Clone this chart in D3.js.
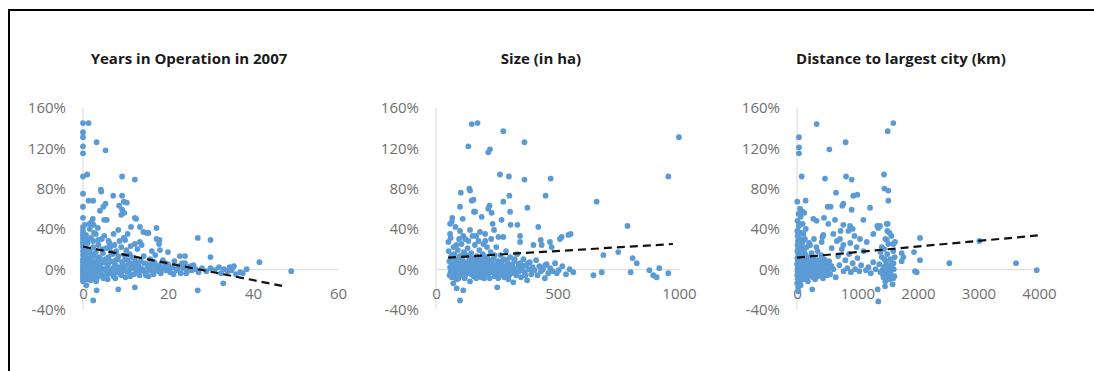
<!DOCTYPE html>
<html>
<head>
<meta charset="utf-8">
<script src="https://cdn.jsdelivr.net/npm/d3@7"></script>
<style>
  body { margin: 0; background: #fff; }
  svg { display: block; }
</style>
</head>
<body>
<div id="chart"></div>
<script>
// growth (in %) against three firm characteristics
var titles = ["Years in Operation in 2007", "Size (in ha)", "Distance to largest city (km)"];

var yTicks = [-40, 0, 40, 80, 120, 160];
var yearsTicks = [0, 20, 40, 60];
var sizeTicks = [0, 500, 1000];
var distTicks = [0, 1000, 2000, 3000, 4000];

// [years, growth %]
var yearsPts = [
  [0,145],[1.3,145],[0,136],[0,131],[0,122],[0,115],[3.2,126],[5.3,118],[0,92],[1,94],[9.2,92],[12.2,89],
  [0,75],[4.2,79],[4.3,77],[7.1,73],[9.2,73],[1.3,68],[2.4,68],[0,62],[4.8,62],[5.3,65],[4,58],[8.5,63],
  [9.6,67],[9.2,59],[9,54],[0,51],[2.3,50],[12.2,51],[1.5,45],[2.5,44],[3.5,41],[5,49],[11.3,42],[13.4,42],
  [8.3,39],[17.3,41],[14.2,37],[15.4,36],[0,35],[0.5,32],[1,29],[0,27],[27,31],[30,29],[17.3,30],[18,29],
  [20,17],[18.1,19],[22.8,13],[30,12],[37.6,-4],[41.5,7],[49,-2],[33,-14],[27,-21],[2.4,-31],[3.2,-21],
  [8.3,-20],[12.2,-18],[0.8,-16],[3.6,29],[6,28],[17.9,25],[12.2,25],[13.4,27],[9.9,29],[10.3,66],[9.7,56],
  [12.5,50],[2,47],[5.6,49],[15,36],
  [0,22],[0,18],[0,14],[0,10],[0,7],[0,4],[0,2],[0,0],[0,-2],[0,-4],[0,-6],[0,-8],[0,-10],[0,-12],[0,25],
  [0,30],[0,33],[0,38],[0,42],
  [0.6,20],[0.7,12],[0.8,6],[0.5,1],[0.9,-3],[0.6,-7],[1,-10],[1,16],[1.1,26],[0.7,34],[1.2,3],[1.1,-5],
  [1.6,19],[1.8,9],[2,4],[2.2,-1],[1.7,-6],[2.5,13],[2.7,1],[2.9,-4],[3,8],[2.4,22],[2.8,-9],[3,17],[1.9,31],
  [2.6,36],[3.1,-12],
  [3.5,5],[3.8,-2],[4,11],[4.2,2],[4.5,-6],[4.7,16],[5,7],[5.2,-1],[5.5,21],[5.7,3],[6,-4],[6,12],[3.6,24],
  [4.4,30],[5.8,-10],[6.2,26],[6.5,8],
  [6.8,0],[7,15],[7.2,-7],[7.5,5],[7.8,18],[8,-2],[8.2,10],[8.5,2],[8.8,-5],[9,22],[9.2,7],[9.5,-1],[9.8,14],
  [10,3],[10,-8],[7.4,24],[8.6,28],[9.6,31],[10.2,19],
  [10.5,9],[10.8,-3],[11,15],[11.3,1],[11.6,6],[12,-5],[12.2,11],[12.5,-1],[12.8,20],[13,4],[13.3,-6],
  [13.6,8],[14,0],[14.3,13],[14.6,-3],[15,5],[11.2,23],[13.8,24],
  [15.4,-7],[15.8,10],[16,2],[16.4,-2],[16.8,7],[17,14],[17.5,0],[18,4],[18.3,-4],[18.8,9],[19,1],[19.5,-1],
  [20,5],[20.5,-3],[21,2],[21.5,8],[22,-1],[16.2,18],
  [22.5,3],[23,-4],[23.6,1],[24,6],[24.5,-2],[25,2],[25.6,-1],[26,4],[26.5,0],[27.2,-3],[28,1],[29,-2],
  [30,1],[31,-1],[32,2],[32.5,-4],[33.2,0],[34,-2],[34.5,2],[35,-1],[35.5,3],[36,-5],[24,13],[38.5,0],[37,-3],
  [0.3,-1],[0.4,5],[0.5,9],[0.3,15],[1.4,-2],[1.5,7],[1.3,11],[2.1,-7],[2.3,6],[2.1,15],[3.3,1],[3.4,-8],
  [3.7,12],[4.1,-3],[4.3,7],[4.6,20],[4.9,0],[5.3,10],[5.6,-6],[5.9,5],[6.3,-2],[6.6,17],[6.9,-5],[7.3,2],
  [7.7,9],[7.9,-3],[8.3,13],[8.7,0],[9.1,-6],[9.4,4],[9.9,10],[10.3,-2],[10.7,5],[11.1,-7],[11.5,12],
  [11.9,2],[12.4,7],[12.9,-3],[13.4,1],[13.9,-1],[14.4,6],[14.8,-6],[15.3,2],[15.7,-1],[16.2,5],[16.6,-5],
  [17.2,3],[17.8,-2],[18.6,1],[19.3,6],[20.3,0],[21.3,-5],[22.3,1],[23.3,6],[24.3,-4],[25.3,3],[0.2,-9],
  [1.8,-11],[4.8,-9],[7.6,-9],[2.4,28],[6.4,22],[0.4,44],[1.6,40],[3,35],[5,33],[7.2,35],[10.5,35]
];

// [hectares, growth %]
var sizePts = [
  [147,144],[171,145],[277,137],[133,122],[215,116],[222,119],[364,126],[1000,131],[263,94],[300,92],
  [364,89],[472,90],[956,92],[451,73],[661,67],[788,43],[102,76],[140,78],[137,80],[99,62],[147,68],
  [154,69],[277,67],[302,73],[376,61],[220,63],[215,60],[229,56],[67,51],[110,50],[156,57],[188,52],
  [305,57],[307,44],[335,44],[421,42],[517,32],[545,34],[554,35],[346,33],[58,35],[51,27],[431,29],
  [476,22],[689,14],[750,17],[809,11],[826,6],[449,4],[497,-4],[565,-3],[648,-6],[682,-3],[801,-3],
  [878,-1],[894,-6],[908,-8],[919,1],[956,-4],[71,-14],[85,-19],[112,-21],[99,-31],[252,-18],
  [161,57],[65,47],[233,45],[270,49],[60,31],[99,38],[140,39],[181,37],[202,35],[239,39],[257,32],
  [277,32],[346,27],[401,24],[435,24],[469,27],[510,30],
  [52,18],[55,8],[58,2],[60,-3],[62,12],[65,-8],[68,5],[70,-1],[72,22],[75,15],[78,-5],[80,3],[83,9],
  [85,-10],[88,0],[90,19],[92,6],[95,-2],[98,13],[100,-6],[103,2],[105,25],[108,10],[110,-3],[113,4],
  [115,17],[118,-9],[120,7],[123,0],[125,14],[128,-4],[130,21],[133,3],[135,-1],[138,9],[140,-12],
  [143,5],[145,16],[148,-2],[150,1],[153,11],[155,-7],[158,6],[160,24],[163,0],[165,-4],[168,13],
  [170,3],[173,-1],[175,8],[178,19],[180,-6],[183,2],[185,10],[188,-3],[190,5],[193,15],[195,0],
  [198,-9],[200,7],[203,28],[205,2],[208,-2],[210,12],[213,4],[215,-5],[218,9],[220,1],[225,17],
  [228,-3],[232,6],[235,0],[238,11],[242,-7],[245,3],[248,22],[252,-1],[255,8],[258,2],[262,-4],
  [265,14],[268,5],[272,-2],[275,0],[278,10],[282,-8],[285,3],[288,18],[292,-1],[295,6],[298,-10],
  [302,1],[305,12],[310,-4],[314,4],[318,-13],[322,8],[326,0],[330,-6],[334,15],[338,2],[342,-2],
  [346,6],[350,-8],[355,1],[360,10],[365,-3],[370,4],[375,-11],[380,0],[386,7],[392,-5],[398,2],
  [405,-1],[412,9],[418,-6],[425,3],[432,-2],[440,0],[448,-9],[455,5],[462,-4],[470,1],[480,-2],
  [490,6],[505,-1],[520,3],[535,-5],[550,0],[210,22],[175,28],[120,30],[150,33],
  [56,-6],[63,4],[67,14],[73,-8],[77,10],[82,-1],[86,5],[93,-9],[96,1],[101,9],[106,-4],[111,14],
  [116,1],[121,-6],[126,5],[131,-2],[136,12],[141,2],[146,-5],[151,8],[156,-1],[161,4],[166,-9],
  [171,10],[176,-3],[181,5],[186,-8],[191,1],[196,11],[201,-4],[206,6],[211,-1],[216,3],[221,-9],
  [226,7],[231,-2],[236,4],[241,14],[246,-4],[251,1],[256,-9],[261,5],[266,-1],[271,8],[276,-6],
  [281,2],[286,-3],[291,9],[296,1],[301,-6],[306,4],[316,-1],[324,10],[332,-3],[340,5],[348,-1],
  [358,3],[368,-6],[378,6],[396,-2],[84,24],[95,30],[112,33],[133,28],[165,33],[195,25],[227,30],
  [58,45],[80,42]
];

// [km, growth %]
var distPts = [
  [325,144],[1592,145],[1499,137],[33,131],[33,121],[33,115],[534,119],[804,126],[77,92],[463,90],
  [810,92],[904,89],[1438,94],[645,76],[931,73],[997,74],[1444,80],[1510,78],[1510,68],[5,67],[143,68],
  [507,62],[556,62],[766,65],[749,63],[904,59],[1207,61],[1096,49],[1328,43],[1372,43],[1499,45],
  [1493,38],[270,50],[325,48],[446,51],[518,45],[628,49],[766,44],[876,43],[920,40],[2033,31],[3014,28],
  [1934,17],[2033,9],[1730,16],[1758,12],[1730,8],[2518,6],[3620,6],[3962,-1],[1951,-2],[1978,-3],
  [1333,-20],[1344,-32],[1455,-17],[253,-20],[22,-22],[1592,-9],
  [849,38],[1262,35],[1344,41],[1482,45],[435,34],[600,35],[711,30],[1152,27],[986,22],[766,24],
  [573,21],[408,27],[215,24],[1482,29],[1592,25],
  [5,38],[10,33],[15,28],[8,24],[20,20],[12,17],[25,14],[6,11],[30,8],[18,5],[40,2],[9,0],[22,-2],
  [35,-5],[14,-8],[28,-11],[45,30],[50,22],[55,12],[60,3],[65,-4],[70,18],[75,7],[80,-1],[85,26],
  [90,13],[95,-7],[100,4],[105,35],[110,10],[115,-2],[120,20],[125,6],[130,-5],[135,15],[140,1],
  [145,40],[150,9],[40,45],[60,52],[90,57],[120,56],[30,43],[70,36],[100,28],[3,-14],[48,-13],[110,-10],
  [160,-3],[170,8],[180,2],[190,-6],[200,12],[210,0],[220,5],[230,-2],[240,16],[250,3],[260,-8],
  [270,7],[280,-1],[290,11],[300,2],[310,-4],[320,6],[330,0],[340,18],[350,-3],[360,9],[370,1],
  [380,-6],[390,4],[400,14],[410,-1],[420,6],[430,-9],[440,2],[450,10],[470,-3],[490,5],[510,-1],
  [530,8],[550,-5],[570,3],[600,0],[200,26],[320,22],[280,30],[420,32],[180,-12],[300,-10],
  [640,-8],[680,13],[700,4],[740,20],[770,-2],[800,9],[830,1],[860,15],[890,-3],[920,6],[960,0],
  [1000,11],[1030,-2],[1060,4],[1100,18],[1140,-1],[1180,2],[1220,-4],[1260,7],[1300,0],[660,28],
  [880,26],[1040,30],[950,33],[720,38],
  [1360,5],[1380,-3],[1400,12],[1420,0],[1430,-8],[1440,20],[1450,3],[1460,-12],[1470,8],[1480,-2],
  [1490,15],[1500,-6],[1510,25],[1520,1],[1530,-10],[1540,10],[1550,-4],[1560,33],[1570,5],
  [1580,-15],[1590,18],[1600,0],[1610,-7],[1620,27],[1400,22],[1460,30],[1530,36],[1380,17],
  [2,5],[4,-6],[7,18],[11,-3],[16,9],[19,-10],[24,3],[27,22],[33,-1],[37,12],[42,-8],[46,6],[52,-2],
  [57,17],[62,9],[67,-9],[72,1],[77,14],[82,-6],[87,4],[92,21],[97,-2],[102,11],[107,-5],[113,3],
  [118,16],[123,-8],[128,1],[133,8],[138,-3],[143,12],[148,-7],[155,3],[165,-8],[175,1],[185,10],
  [195,-2],[205,5],[215,-5],[225,9],[235,1],[245,-4],[255,12],[265,0],[275,4],[285,-6],[295,7],
  [315,1],[335,-7],[355,3],[375,-2],[395,8],[415,-4],[460,0],[500,-6],[540,4],[20,-18],[60,-16],
  [8,48],[26,55],[50,60],[95,45],[130,30],[160,22],[12,38],[1420,-5],[1445,10],[1475,-9],[1505,4],
  [1535,-1],[1565,-8],[1595,6],[1615,12]
];

// linear trend lines, start and end points as drawn
var yearsTrend = [[0, 22.5], [48, -17.5]];
var sizeTrend = [[50, 11.5], [975, 25]];
var distTrend = [[0, 11.5], [3980, 33.5]];

var width = 1094, height = 371;

var svg = d3.select("#chart").append("svg")
    .attr("width", width)
    .attr("height", height);

// border of the pasted picture: only top and left edges show
svg.append("path")
    .attr("d", "M9,371 V10 H1094")
    .attr("fill", "none")
    .attr("stroke", "#000")
    .attr("stroke-width", 2);

var y = d3.scaleLinear()
    .domain([-40, 160])
    .range([309.5, 108]);

var panels = [
    {title: titles[0], pts: yearsPts, trend: yearsTrend, ticks: yearsTicks, x0: 83, x1: 338, cx: 189},
    {title: titles[1], pts: sizePts, trend: sizeTrend, ticks: sizeTicks, x0: 436, x1: 679, cx: 541},
    {title: titles[2], pts: distPts, trend: distTrend, ticks: distTicks, x0: 797, x1: 1039, cx: 901}
];

var font = "'Open Sans', sans-serif";

panels.forEach(function(p) {
    var x = d3.scaleLinear()
        .domain([0, p.ticks[p.ticks.length - 1]])
        .range([p.x0, p.x1]);

    var g = svg.append("g");

    g.append("text")
        .attr("x", p.cx)
        .attr("y", 59)
        .attr("dy", "0.35em")
        .attr("text-anchor", "middle")
        .style("font-family", font)
        .style("font-size", "15px")
        .style("font-weight", "bold")
        .style("fill", "#1a1a1a")
        .text(p.title);

    // vertical axis line
    g.append("line")
        .attr("x1", x(0)).attr("x2", x(0))
        .attr("y1", y(160)).attr("y2", y(-40))
        .attr("stroke", "#d9d9d9");

    var yAxis = g.append("g")
        .attr("transform", "translate(" + x(0) + ",0)")
        .call(d3.axisLeft(y)
            .tickValues(yTicks)
            .tickSize(0)
            .tickPadding(17)
            .tickFormat(function(d) { return d + "%"; }));
    yAxis.select(".domain").remove();

    var xAxis = g.append("g")
        .attr("transform", "translate(0," + y(0) + ")")
        .call(d3.axisBottom(x)
            .tickValues(p.ticks)
            .tickSize(0)
            .tickPadding(19)
            .tickFormat(d3.format("d")));
    xAxis.select(".domain").attr("stroke", "#d9d9d9");

    g.selectAll(".tick text")
        .style("font-family", font)
        .style("font-size", "15px")
        .style("fill", "#707070");

    g.selectAll(".dot").data(p.pts)
        .enter().append("circle")
        .attr("class", "dot")
        .attr("cx", function(d) { return x(d[0]); })
        .attr("cy", function(d) { return y(d[1]); })
        .attr("r", 2.9)
        .attr("fill", "#5b9bd5");

    g.append("path")
        .attr("d", d3.line()
            .x(function(d) { return x(d[0]); })
            .y(function(d) { return y(d[1]); })(p.trend))
        .attr("fill", "none")
        .attr("stroke", "#111")
        .attr("stroke-width", 2.2)
        .attr("stroke-dasharray", "8,5");
});
</script>
</body>
</html>
